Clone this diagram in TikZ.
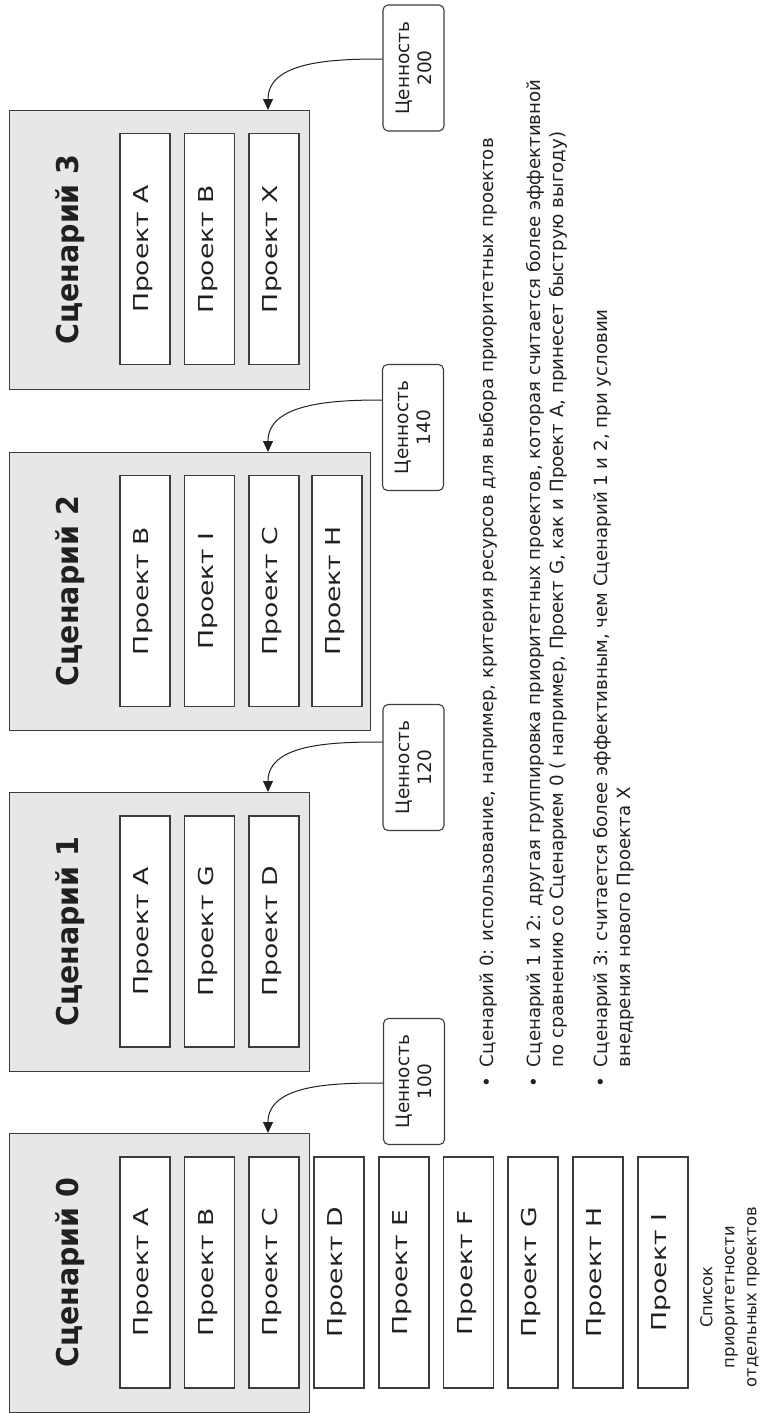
\documentclass[tikz,border=0pt]{standalone}
\usepackage{fontspec}
\setmainfont{DejaVu Sans}
\newfontfamily\projfont[FakeStretch=1.3]{DejaVu Sans}
\newfontfamily\headfont[FakeStretch=0.95]{DejaVu Sans}
\usetikzlibrary{arrows.meta}
\definecolor{edge}{HTML}{3C3C3C}
\definecolor{panel}{HTML}{E6E7E8}
\definecolor{ink}{HTML}{231F20}

\begin{document}
\begin{tikzpicture}[x=1pt,y=-1pt,
  scen/.style={draw=edge, fill=panel, line width=1.3pt, anchor=north west,
    inner sep=0pt, minimum height=279pt},
  proj/.style={draw=edge, fill=white, line width=1.3pt, rotate=90,
    minimum width=231pt, minimum height=50pt, inner sep=0pt,
    font=\projfont\fontsize{20.5}{24}\selectfont, text=ink,
    text height=15pt, text depth=8pt},
  head/.style={rotate=90, anchor=base, inner sep=0pt,
    font=\headfont\bfseries\fontsize{30}{36}\selectfont, text=ink},
  value/.style={draw=edge, line width=1.1pt, rounded corners=5pt, rotate=90,
    minimum width=126pt, minimum height=61pt, inner sep=0pt, align=center,
    font=\fontsize{18.5}{22}\selectfont, text=ink},
  link/.style={draw=ink, line width=1pt, -{Triangle[length=11pt,width=10pt]}},
  note/.style={rotate=90, anchor=base west, inner sep=0pt, text=ink,
    font=\fontsize{18.2}{23}\selectfont},
]
\useasboundingbox (0,0) rectangle (760,1413);

% scenario panels
\node[scen, minimum width=300pt] (s3) at (9,110) {};
\node[scen, minimum width=361pt, minimum height=278pt] (s2) at (9,452) {};
\node[scen, minimum width=300pt] (s1) at (9,792) {};
\node[scen, minimum width=300pt] (s0) at (9,1133) {};

% panel titles
\node[head] (t3) at (78,249.5) {Сценарий 3};
\node[head] (t2) at (78,591) {Сценарий 2};
\node[head] (t1) at (78,931.5) {Сценарий 1};
\node[head] (t0) at (78,1272.5) {Сценарий 0};

% Scenario 3
\node[proj] (s3a) at (145,249) {Проект A};
\node[proj] (s3b) at (209.5,249) {Проект B};
\node[proj] (s3x) at (274,249) {Проект  X};

% Scenario 2
\node[proj] (s2b) at (145,591) {Проект B};
\node[proj] (s2i) at (209.5,591) {Проект I};
\node[proj] (s2c) at (274,591) {Проект C};
\node[proj] (s2h) at (337,591) {Проект H};

% Scenario 1
\node[proj] (s1a) at (145,931.5) {Проект A};
\node[proj] (s1g) at (209.5,931.5) {Проект G};
\node[proj] (s1d) at (274,931.5) {Проект  D};

% Scenario 0 and the full priority list
\node[proj] (pa) at (145,1272.5) {Проект A};
\node[proj] (pb) at (209.5,1272.5) {Проект B};
\node[proj] (pc) at (274,1272.5) {Проект C};
\node[proj] (pd) at (339,1272.5) {Проект  D};
\node[proj] (pe) at (404,1272.5) {Проект  E};
\node[proj] (pf) at (468.5,1272.5) {Проект  F};
\node[proj] (pg) at (533,1272.5) {Проект  G};
\node[proj] (ph) at (598,1272.5) {Проект  H};
\node[proj] (pi) at (663,1272.5) {Проект  I};

\node[rotate=90, align=center, inner sep=0pt, text=ink,
  font=\fontsize{16.4}{22}\selectfont] (list) at (730,1297)
  {Список\\приоритетности\\отдельных проектов};

% value call-outs
\node[value] (c200) at (413.5,68) {Ценность\\200};
\node[value] (c140) at (413,427.5) {Ценность\\140};
\node[value] (c120) at (413.5,767.5) {Ценность\\120};
\node[value] (c100) at (414,1081.5) {Ценность\\100};

\draw[link] ([yshift=9pt]c200.north) to[out=180,in=90] ([xshift=259pt]s3.north west);
\draw[link] ([yshift=27.5pt]c140.north) to[out=180,in=90] ([xshift=259pt]s2.north west);
\draw[link] ([yshift=25.5pt]c120.north) to[out=180,in=90] ([xshift=259pt]s1.north west);
\draw[link] ([yshift=-1.5pt]c100.north) to[out=180,in=90] ([xshift=259pt]s0.north west);

% notes
\node[note] (n0) at (493,1088) {\begin{tabular}[t]{@{}l@{\hspace{10pt}}l@{}}
  •&Сценарий 0: использование, например, критерия ресурсов для выбора приоритетных проектов
  \end{tabular}};
\node[note] (n1) at (540,1088) {\begin{tabular}[t]{@{}l@{\hspace{10pt}}l@{}}
  •&Сценарий 1 и 2: другая группировка приоритетных проектов, которая считается более эффективной\\
  &по сравнению со Сценарием 0 ( например, Проект G, как и Проект A, принесет быструю выгоду)
  \end{tabular}};
\node[note] (n3) at (607,1088) {\begin{tabular}[t]{@{}l@{\hspace{10pt}}l@{}}
  •&Сценарий 3: считается более эффективным, чем Сценарий 1 и 2, при условии\\
  &внедрения нового Проекта X
  \end{tabular}};
\end{tikzpicture}
\end{document}
